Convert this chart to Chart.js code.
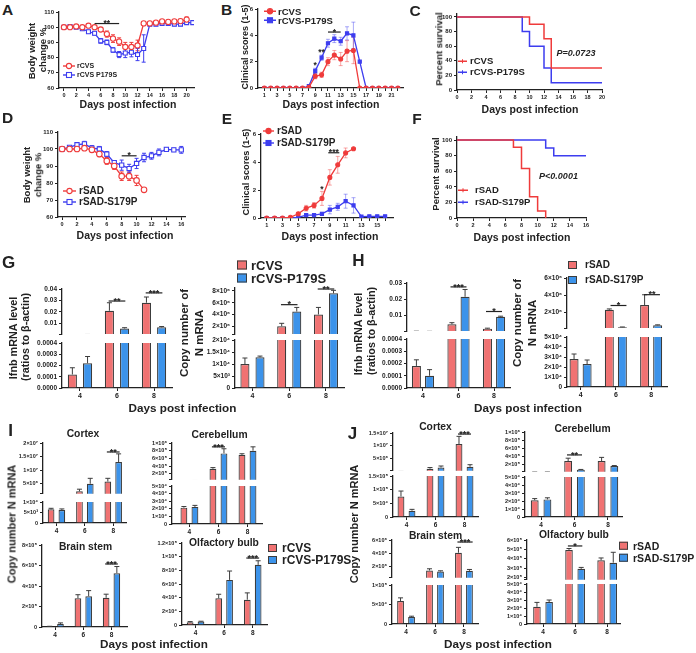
<!DOCTYPE html>
<html>
<head>
<meta charset="utf-8">
<title>Figure</title>
<script src="https://cdn.jsdelivr.net/npm/chart.js@4.4.1/dist/chart.umd.min.js"></script>
<style>
  html, body { margin: 0; padding: 0; background: #fff; }
  #fig { position: relative; width: 696px; height: 653px; overflow: hidden;
         font-family: "Liberation Sans", Arial, sans-serif; font-weight: bold; color: #222; }
  #fig canvas { position: absolute; }
  .lbl { position: absolute; white-space: nowrap; line-height: 1; }
  .key { position: absolute; display: flex; align-items: center; white-space: nowrap;
         line-height: 1; transform: translateY(-50%); }
</style>
</head>
<body>
<div id="fig"></div>
<script>
// ---------- Panel A: body weight, rCVS vs rCVS P179S ----------
const A_DAYS_CVS = [0, 1, 2, 3, 4, 5, 6, 7, 8, 9, 10, 11, 12, 13, 14, 15, 16, 17, 18, 19, 20];
const A_DAYS_P179S = [0, 1, 2, 3, 4, 5, 6, 7, 8, 9, 10, 11, 12, 13, 14, 15, 16, 17, 18, 19, 20, 21];
const A_CVS = [100, 100, 100.5, 100, 101, 100, 98.5, 95.5, 92.5, 90.5, 87, 87, 88, 102.5, 102.5, 103, 103.8, 103.5, 103.8, 104, 105];
const A_CVS_SD = [0.5, 0.5, 0.8, 0.8, 0.8, 1, 1.2, 2, 2.5, 2.5, 3, 3, 3.5, 1, 1, 1, 1, 1, 1, 1.2, 1.8];
const A_P179S = [100, 100.5, 100, 99, 97, 96, 91, 90, 85, 82, 83, 83.5, 82, 86, 102, 102, 102.5, 102.5, 102, 102, 103, 103];
const A_P179S_SD = [0.5, 0.5, 0.5, 1, 1, 1.2, 1.5, 1.5, 1.5, 2, 3, 3, 4, 9, 1, 1, 1, 1, 1, 1, 1, 1];
const A_X_TICKS = [0, 2, 4, 6, 8, 10, 12, 14, 16, 18, 20];
const WEIGHT_TICKS = [60, 70, 80, 90, 100, 110];

// ---------- Panel B: clinical scores, rCVS ----------
const B_DAYS = [1, 2, 3, 4, 5, 6, 7, 8, 9, 10, 11, 12, 13, 14, 15, 16, 17, 18, 19, 20, 21, 22];
const B_CVS = [0, 0, 0, 0, 0, 0, 0, 0.05, 0.9, 1.0, 2.0, 2.5, 2.2, 2.8, 2.85, 0, 0, 0, 0, 0, 0, 0];
const B_CVS_SD = [0, 0, 0, 0, 0, 0, 0, 0.05, 0.2, 0.2, 0.3, 0.35, 0.5, 0.8, 1.0, 0, 0, 0, 0, 0, 0, 0];
const B_P179S = [0, 0, 0, 0, 0, 0, 0, 0.15, 1.3, 2.3, 3.4, 3.75, 3.55, 4.15, 4.0, 2.0, 0, 0, 0, 0, 0, 0];
const B_P179S_SD = [0, 0, 0, 0, 0, 0, 0, 0.1, 0.2, 0.2, 0.3, 0.3, 0.3, 0.5, 1.0, 0, 0, 0, 0, 0, 0, 0];
const SCORE_TICKS = [0, 2, 4, 6];

// ---------- Panel C: survival, rCVS ----------
const C_T_CVS = [0, 10, 12, 13, 20];
const C_S_CVS = [100, 90, 70, 30, 30];
const C_T_P179S = [0, 9, 10, 12, 13, 20];
const C_S_P179S = [100, 80, 60, 30, 10, 10];
const C_X_TICKS = [0, 2, 4, 6, 8, 10, 12, 14, 16, 18, 20];
const SURV_TICKS = [0, 20, 40, 60, 80, 100];

// ---------- Panel D: body weight, rSAD ----------
const D_DAYS_SAD = [0, 1, 2, 3, 4, 5, 6, 7, 8, 9, 10, 11];
const D_DAYS_S179P = [0, 1, 2, 3, 4, 5, 6, 7, 8, 9, 10, 11, 12, 13, 14, 15, 16];
const D_SAD = [100, 100, 100, 100.5, 99.5, 97, 93, 90, 84, 84, 81.5, 76];
const D_SAD_SD = [0.5, 0.5, 0.5, 0.8, 1.5, 1.5, 2, 2, 2.5, 2.5, 3, 0];
const D_S179P = [100, 101, 102.5, 103, 100.5, 100, 97, 92, 90.5, 88.5, 91.5, 95, 96, 98, 99.8, 99.5, 99.5];
const D_S179P_SD = [0.5, 0.5, 1, 1.5, 1.5, 1.5, 1.5, 1, 3, 2.5, 3, 2.5, 2, 2, 1, 1, 2];
const D_X_TICKS = [0, 2, 4, 6, 8, 10, 12, 14, 16];

// ---------- Panel E: clinical scores, rSAD ----------
const E_DAYS_SAD = [1, 2, 3, 4, 5, 6, 7, 8, 9, 10, 11, 12];
const E_DAYS_S179P = [1, 2, 3, 4, 5, 6, 7, 8, 9, 10, 11, 12, 13, 14, 15, 16];
const E_SAD = [0, 0, 0, 0.05, 0.3, 0.7, 0.9, 1.4, 2.9, 3.8, 4.65, 4.95];
const E_SAD_SD = [0, 0, 0, 0.05, 0.1, 0.2, 0.2, 0.5, 0.55, 0.6, 0.35, 0.05];
const E_S179P = [0, 0, 0, 0, 0.05, 0.2, 0.2, 0.3, 0.6, 0.8, 1.2, 0.9, 0.1, 0.12, 0.12, 0.12];
const E_S179P_SD = [0, 0, 0, 0, 0.05, 0.1, 0.1, 0.1, 0.3, 0.25, 0.5, 0.55, 0.05, 0.05, 0.05, 0.05];
const E_X_TICKS = [1, 2, 3, 4, 5, 6, 7, 8, 9, 10, 11, 12, 13, 14, 15, 16];

// ---------- Panel F: survival, rSAD ----------
const F_T_SAD = [0, 7, 8, 9, 10, 11];
const F_S_SAD = [100, 90.9, 63.6, 27.3, 9.1, 0];
const F_T_S179P = [0, 11, 12, 16];
const F_S_S179P = [100, 90, 80, 80];
const F_X_TICKS = [0, 2, 4, 6, 8, 10, 12, 14, 16];

// ---------- Bar panels: days post infection ----------
const BAR_DAYS = [4, 6, 8];

// G: rCVS vs rCVS-P179S
const G_IFNB_CVS = [0.00012, 0.021, 0.028];
const G_IFNB_CVS_SD = [0.00006, 0.007, 0.005];
const G_IFNB_P179S = [0.00022, 0.0055, 0.0065];
const G_IFNB_P179S_SD = [0.00006, 0.0007, 0.0007];
const G_N_CVS = [1.0e4, 2.0e6, 4.0e6];
const G_N_CVS_SD = [0.25e4, 0.5e6, 1.2e6];
const G_N_P179S = [1.28e4, 4.5e6, 7.6e6];
const G_N_P179S_SD = [0.05e4, 0.7e6, 0.5e6];

// H: rSAD vs rSAD-S179P
const H_IFNB_SAD = [0.00018, 0.0045, 0.0018];
const H_IFNB_SAD_SD = [0.00005, 0.001, 0.0003];
const H_IFNB_S179P = [0.0001, 0.0215, 0.0092];
const H_IFNB_S179P_SD = [0.00005, 0.0045, 0.0003];
const H_N_SAD = [2.8e4, 2.3e6, 2.85e6];
const H_N_SAD_SD = [0.5e4, 0.1e6, 1.2e6];
const H_N_S179P = [2.3e4, 0.28e6, 0.5e6];
const H_N_S179P_SD = [0.4e4, 0.02e6, 0.05e6];

// I: rCVS brain regions
const I_CTX_CVS = [6.5e3, 2.2e6, 5.8e6];
const I_CTX_CVS_SD = [0.5e3, 0.8e6, 1.2e6];
const I_CTX_P179S = [6.2e3, 5.0e6, 1.3e7];
const I_CTX_P179S_SD = [0.5e3, 2.0e6, 3.0e6];
const I_CB_CVS = [2.15e4, 3.3e5, 6.9e5];
const I_CB_CVS_SD = [0.15e4, 0.3e5, 0.3e5];
const I_CB_P179S = [2.25e4, 7.3e5, 8.0e5];
const I_CB_P179S_SD = [0.2e4, 1.2e5, 1.0e5];
const I_BS_CVS = [0.05e5, 2.8e5, 2.85e5];
const I_BS_CVS_SD = [0.02e5, 0.35e5, 0.35e5];
const I_BS_P179S = [0.3e5, 3.0e5, 5.25e5];
const I_BS_P179S_SD = [0.1e5, 0.55e5, 0.65e5];
const I_OB_CVS = [0.4e4, 3.9e4, 3.7e4];
const I_OB_CVS_SD = [0.1e4, 0.6e4, 1.0e4];
const I_OB_P179S = [0.5e4, 6.6e4, 8.8e4];
const I_OB_P179S_SD = [0.05e4, 1.3e4, 0.6e4];

// J: rSAD brain regions
const J_CTX_SAD = [7.5e4, 1.15e6, 1.07e7];
const J_CTX_SAD_SD = [2e4, 0.45e6, 3.0e6];
const J_CTX_S179P = [2.3e4, 1.6e6, 1.9e6];
const J_CTX_S179P_SD = [0.5e4, 0.6e6, 0.8e6];
const J_CB_SAD = [2.1e4, 2.9e5, 2.9e5];
const J_CB_SAD_SD = [0.2e4, 0.7e5, 0.9e5];
const J_CB_S179P = [2.2e4, 0.8e5, 1.7e5];
const J_CB_S179P_SD = [0.2e4, 0.05e5, 0.1e5];
const J_BS_SAD = [5.9e4, 1.45e6, 4.1e6];
const J_BS_SAD_SD = [0.8e4, 0.25e6, 0.8e6];
const J_BS_S179P = [1.8e4, 1.3e6, 1.4e6];
const J_BS_S179P_SD = [0.2e4, 0.1e6, 0.2e6];
const J_OB_SAD = [2.15e4, 4.95e5, 3.85e5];
const J_OB_SAD_SD = [0.55e4, 0.15e5, 0.25e5];
const J_OB_S179P = [2.75e4, 2.95e5, 3.6e5];
const J_OB_S179P_SD = [0.25e4, 0.15e5, 1.1e5];

// ---------- look ----------
const RED = '#ef3b3b', BLUE = '#3d3def';
const RED_LIGHT = 'rgba(239,59,59,0.45)', BLUE_LIGHT = 'rgba(61,61,239,0.45)';
const BAR_RED = '#f07272', BAR_BLUE = '#3c93ea', EDGE = '#3c3c3c', INK = '#222';
const FONT = '"Liberation Sans", Arial, Helvetica, sans-serif';

Chart.defaults.font.family = FONT;
Chart.defaults.font.weight = 'bold';
Chart.defaults.color = INK;

const fig = document.getElementById('fig');

const SUP = { '0': '⁰', '1': '¹', '2': '²', '3': '³', '4': '⁴', '5': '⁵', '6': '⁶', '7': '⁷', '8': '⁸', '9': '⁹' };
function sci(v) {
  if (v === 0) return '0';
  const e = Math.floor(Math.log10(v) + 1e-9);
  const m = +(v / Math.pow(10, e)).toFixed(2);
  return m + '×10' + String(e).split('').map(d => SUP[d]).join('');
}
const fix2 = v => v.toFixed(2);
const fix4 = v => v.toFixed(4);
const plain = v => String(v);
const odd = v => (v % 2 ? String(v) : '');

// error bars drawn under the marks, from each dataset's err array
const errorBars = {
  id: 'errorBars',
  beforeDatasetsDraw(chart) {
    const ctx = chart.ctx, a = chart.chartArea, ys = chart.scales.y;
    ctx.save();
    ctx.beginPath();
    ctx.rect(a.left, a.top - 1, a.right - a.left, a.bottom - a.top + 1);
    ctx.clip();
    chart.data.datasets.forEach((ds, di) => {
      if (!ds.err) return;
      const meta = chart.getDatasetMeta(di);
      ctx.strokeStyle = ds.errColor;
      ctx.lineWidth = 1;
      meta.data.forEach((el, i) => {
        const e = ds.err[i];
        if (!e) return;
        const v = ds.data[i].y;
        const top = ys.getPixelForValue(v + e);
        const bot = ds.errUp ? el.y : ys.getPixelForValue(v - e);
        const cw = ds.capW;
        ctx.beginPath();
        ctx.moveTo(el.x, bot); ctx.lineTo(el.x, top);
        ctx.moveTo(el.x - cw, top); ctx.lineTo(el.x + cw, top);
        if (!ds.errUp) { ctx.moveTo(el.x - cw, bot); ctx.lineTo(el.x + cw, bot); }
        ctx.stroke();
      });
    });
    ctx.restore();
  }
};

// significance lines and stars, placed in data units
function sigMarks(marks, size) {
  return {
    id: 'sigMarks',
    afterDatasetsDraw(chart) {
      const ctx = chart.ctx, xs = chart.scales.x, ys = chart.scales.y;
      ctx.save();
      ctx.strokeStyle = INK; ctx.fillStyle = INK; ctx.lineWidth = 1.2;
      ctx.font = 'bold ' + size + 'px ' + FONT;
      ctx.textAlign = 'center'; ctx.textBaseline = 'alphabetic';
      marks.forEach(m => {
        const x1 = xs.getPixelForValue(m.x1), x2 = xs.getPixelForValue(m.x2), y = ys.getPixelForValue(m.y);
        if (m.x1 !== m.x2) {
          ctx.beginPath(); ctx.moveTo(x1, y); ctx.lineTo(x2, y); ctx.stroke();
        }
        ctx.fillText(m.text, (x1 + x2) / 2, y + size * 0.3);
      });
      ctx.restore();
    }
  };
}

function makeCanvas(box, yW, xH, padT, padR, padB) {
  const c = document.createElement('canvas');
  const w = Math.round(box.x1 - box.x0 + yW + padR);
  const h = Math.round(box.y1 - box.y0 + padT + xH + padB);
  c.width = w; c.height = h;
  c.style.left = (box.x0 - yW) + 'px';
  c.style.top = (box.y0 - padT) + 'px';
  c.style.width = w + 'px';
  c.style.height = h + 'px';
  fig.appendChild(c);
  return c;
}

function axisLook() {
  return {
    grid: { display: true, drawOnChartArea: false, drawTicks: true, tickLength: 3, color: INK, lineWidth: 1, offset: false },
    border: { display: true, color: INK, width: 1.3 }
  };
}

function yScale(min, max, ticks, fmt, size, yW) {
  return Object.assign({
    type: 'linear', min, max, bounds: 'data',
    afterBuildTicks: s => { s.ticks = ticks.map(v => ({ value: v })); },
    afterFit: s => { s.width = yW; },
    ticks: { callback: v => fmt(v), font: { size }, padding: 2, autoSkip: false, color: INK }
  }, axisLook());
}

function xScale(min, max, ticks, fmt, size, xH, show) {
  return Object.assign({
    type: 'linear', min, max, bounds: 'data', offset: false, display: show,
    afterBuildTicks: s => { s.ticks = ticks.map(v => ({ value: v })); },
    afterFit: s => { s.height = xH; },
    ticks: { callback: v => fmt(v), font: { size }, padding: 1, maxRotation: 0, autoSkip: false, color: INK }
  }, axisLook());
}

function chartOptions(xs, ys, padT, padR, padB) {
  return {
    responsive: false, maintainAspectRatio: false, animation: false, events: [], devicePixelRatio: 1,
    layout: { padding: { left: 0, top: padT, right: padR, bottom: padB } },
    plugins: { legend: { display: false }, tooltip: { enabled: false } },
    scales: { x: xs, y: ys }
  };
}

// ---------- line / survival charts ----------
function series(xs, ys, errs, color, style, open, radius, errColor) {
  return {
    data: xs.map((x, i) => ({ x, y: ys[i] })),
    borderColor: color, borderWidth: 1.3,
    pointStyle: style, pointRadius: radius, pointBorderWidth: 1.1,
    pointBackgroundColor: open ? '#fff' : color, pointBorderColor: color,
    err: errs, errColor, capW: 2, errUp: false
  };
}

function stepSeries(xs, ys, color) {
  return {
    data: xs.map((x, i) => ({ x, y: ys[i] })),
    borderColor: color, borderWidth: 1.5, stepped: true, pointRadius: 0
  };
}

function lineChart(box, o) {
  const yW = 24, xH = 12, padT = 8, padR = 8;
  const c = makeCanvas(box, yW, xH, padT, padR, 0);
  new Chart(c, {
    type: 'line',
    data: { datasets: o.datasets },
    options: chartOptions(
      xScale(o.xMin, o.xMax, o.xTicks, o.xFmt, 5.5, xH, true),
      yScale(o.yMin, o.yMax, o.yTicks, plain, 6, yW), padT, padR, 0),
    plugins: [errorBars, sigMarks(o.sig || [], 8.5)]
  });
}

// ---------- bar charts (one segment of a possibly broken axis) ----------
function barSeries(vals, sd, fill, catP, barP) {
  return {
    data: BAR_DAYS.map((d, i) => ({ x: d, y: vals[i] })),
    backgroundColor: fill, borderColor: EDGE, borderWidth: 1.2,
    categoryPercentage: catP, barPercentage: barP, clip: 0,
    err: sd, errColor: EDGE, capW: 2.5, errUp: true
  };
}

function barChart(box, o) {
  const show = !!o.showX;
  const xH = show ? 14 : 0, padT = 10, padR = 6, padB = show ? 0 : 5;
  const c = makeCanvas(box, o.yW, xH, padT, padR, padB);
  new Chart(c, {
    type: 'bar',
    data: {
      datasets: [
        barSeries(o.a, o.aSd, BAR_RED, o.catP, o.barP),
        barSeries(o.b, o.bSd, BAR_BLUE, o.catP, o.barP)
      ]
    },
    options: chartOptions(
      xScale(o.xMin, o.xMax, BAR_DAYS, plain, o.xSize, xH, show),
      yScale(o.yMin, o.yMax, o.yTicks, v => (o.hideMin && v === o.yMin ? '' : o.fmt(v)), o.ySize, o.yW),
      padT, padR, padB),
    plugins: [errorBars, sigMarks(o.sig || [], 9)]
  });
}

function brokenBars(top, bottom, common) {
  barChart(top.box, Object.assign({}, common, top, { showX: false, hideMin: true }));
  barChart(bottom.box, Object.assign({}, common, bottom, { showX: true }));
}

// ---------- text ----------
function text(str, x, y, size, o) {
  o = o || {};
  const d = document.createElement('div');
  d.className = 'lbl';
  d.textContent = str;
  d.style.left = x + 'px';
  d.style.top = y + 'px';
  d.style.fontSize = size + 'px';
  if (o.italic) d.style.fontStyle = 'italic';
  d.style.transform = 'translate(-50%,-50%)' + (o.rot ? ' rotate(-90deg)' : '');
  fig.appendChild(d);
}

function lineKey(x, y, w, gap, color, marker, open, label, size) {
  const d = document.createElement('div');
  d.className = 'key';
  d.style.left = x + 'px';
  d.style.top = y + 'px';
  d.style.fontSize = size + 'px';
  const cx = w / 2, cy = 4;
  const fill = open ? '#fff' : color;
  let m = '';
  if (marker === 'circle') m = '<circle cx="' + cx + '" cy="' + cy + '" r="2.6" fill="' + fill + '" stroke="' + color + '" stroke-width="1.1"/>';
  if (marker === 'rect') m = '<rect x="' + (cx - 2.5) + '" y="' + (cy - 2.5) + '" width="5" height="5" fill="' + fill + '" stroke="' + color + '" stroke-width="1.1"/>';
  if (marker === 'tick') m = '<line x1="' + cx + '" y1="' + (cy - 2) + '" x2="' + cx + '" y2="' + (cy + 2) + '" stroke="' + color + '" stroke-width="1"/>';
  d.innerHTML = '<svg width="' + w + '" height="8" style="display:block"><line x1="0" y1="' + cy + '" x2="' + w + '" y2="' + cy +
    '" stroke="' + color + '" stroke-width="1.4"/>' + m + '</svg><span style="margin-left:' + gap + 'px"></span>';
  d.querySelector('span').textContent = label;
  fig.appendChild(d);
}

function barKey(x, y, w, h, gap, fill, label, size) {
  const d = document.createElement('div');
  d.className = 'key';
  d.style.left = x + 'px';
  d.style.top = y + 'px';
  d.style.fontSize = size + 'px';
  d.innerHTML = '<div style="width:' + w + 'px;height:' + h + 'px;box-sizing:border-box;border:1.2px solid ' + EDGE +
    ';background:' + fill + '"></div><span style="margin-left:' + gap + 'px"></span>';
  d.querySelector('span').textContent = label;
  fig.appendChild(d);
}

// ================= A =================
lineChart({ x0: 59, y0: 12, x1: 194, y1: 88 }, {
  xMin: -0.8, xMax: 21.2, xTicks: A_X_TICKS, xFmt: plain,
  yMin: 60, yMax: 110, yTicks: WEIGHT_TICKS,
  datasets: [
    series(A_DAYS_CVS, A_CVS, A_CVS_SD, RED, 'circle', true, 2.6, RED),
    series(A_DAYS_P179S, A_P179S, A_P179S_SD, BLUE, 'rect', true, 2.8, BLUE)
  ],
  sig: [{ x1: 5, x2: 9, y: 102.4, text: '**' }]
});
text('A', 7.5, 9.5, 15.5);
text('Body weight', 32, 51, 9.5, { rot: true });
text('change %', 43, 50, 9.5, { rot: true });
text('Days post infection', 128, 103.5, 10.5);
lineKey(63, 65.5, 12, 2, RED, 'circle', true, 'rCVS', 7);
lineKey(63, 74.5, 12, 2, BLUE, 'rect', true, 'rCVS P179S', 7);

// ================= B =================
lineChart({ x0: 258, y0: 9, x1: 403, y1: 88 }, {
  xMin: 0, xMax: 22.8, xTicks: B_DAYS, xFmt: odd,
  yMin: 0, yMax: 6, yTicks: SCORE_TICKS,
  datasets: [
    series(B_DAYS, B_CVS, B_CVS_SD, RED, 'circle', false, 2, RED_LIGHT),
    series(B_DAYS, B_P179S, B_P179S_SD, BLUE, 'rect', false, 2.2, BLUE_LIGHT)
  ],
  sig: [
    { x1: 9, x2: 9, y: 1.75, text: '*' },
    { x1: 10, x2: 10, y: 2.73, text: '**' },
    { x1: 11, x2: 13, y: 4.25, text: '*' }
  ]
});
text('B', 226.5, 9.5, 15.5);
text('Clinical scores (1-5)', 245, 47, 9, { rot: true });
text('Days post infection', 331, 103.5, 10.5);
lineKey(264, 11.5, 12, 2, RED, 'circle', false, 'rCVS', 9.5);
lineKey(264, 20.5, 12, 2, BLUE, 'rect', false, 'rCVS-P179S', 9.5);

// ================= C =================
lineChart({ x0: 457, y0: 14, x1: 602, y1: 90 }, {
  xMin: 0, xMax: 20, xTicks: C_X_TICKS, xFmt: plain,
  yMin: 0, yMax: 104, yTicks: SURV_TICKS,
  datasets: [stepSeries(C_T_CVS, C_S_CVS, RED), stepSeries(C_T_P179S, C_S_P179S, BLUE)]
});
text('C', 415, 11, 15.5);
text('Percent survival', 438.5, 49, 9.5, { rot: true });
text('Days post infection', 530, 108.5, 10.5);
text('P=0.0723', 576, 53, 9, { italic: true });
lineKey(458, 61, 9, 3, RED, 'tick', false, 'rCVS', 9.5);
lineKey(458, 72, 9, 3, BLUE, 'tick', false, 'rCVS-P179S', 9.5);

// ================= D =================
lineChart({ x0: 58, y0: 132, x1: 185, y1: 217 }, {
  xMin: -0.55, xMax: 16.5, xTicks: D_X_TICKS, xFmt: plain,
  yMin: 60, yMax: 110, yTicks: WEIGHT_TICKS,
  datasets: [
    series(D_DAYS_SAD, D_SAD, D_SAD_SD, RED, 'circle', true, 2.8, RED),
    series(D_DAYS_S179P, D_S179P, D_S179P_SD, BLUE, 'rect', true, 3, BLUE)
  ],
  sig: [{ x1: 8, x2: 10, y: 96, text: '*' }]
});
text('D', 7.5, 118, 15.5);
text('Body weight', 27, 175, 9.5, { rot: true });
text('change %', 38, 175, 9.5, { rot: true });
text('Days post infection', 125, 235, 10.5);
lineKey(63, 191, 13, 3, RED, 'circle', true, 'rSAD', 10);
lineKey(63, 202, 13, 3, BLUE, 'rect', true, 'rSAD-S179P', 10);

// ================= E =================
lineChart({ x0: 261, y0: 134, x1: 393, y1: 218 }, {
  xMin: 0.28, xMax: 17, xTicks: E_X_TICKS, xFmt: odd,
  yMin: 0, yMax: 6, yTicks: SCORE_TICKS,
  datasets: [
    series(E_DAYS_SAD, E_SAD, E_SAD_SD, RED, 'circle', false, 2, RED_LIGHT),
    series(E_DAYS_S179P, E_S179P, E_S179P_SD, BLUE, 'rect', false, 2.2, BLUE_LIGHT)
  ],
  sig: [
    { x1: 8, x2: 8, y: 2.07, text: '*' },
    { x1: 8.8, x2: 10.2, y: 4.66, text: '***' }
  ]
});
text('E', 227, 119, 15.5);
text('Clinical scores (1-5)', 246.5, 172, 9.2, { rot: true });
text('Days post infection', 330, 236, 10.5);
lineKey(263, 130.5, 11, 3, RED, 'circle', false, 'rSAD', 10);
lineKey(263, 142.5, 11, 3, BLUE, 'rect', false, 'rSAD-S179P', 10);

// ================= F =================
lineChart({ x0: 457, y0: 137, x1: 586, y1: 218 }, {
  xMin: 0, xMax: 16, xTicks: F_X_TICKS, xFmt: plain,
  yMin: 0, yMax: 104, yTicks: SURV_TICKS,
  datasets: [stepSeries(F_T_SAD, F_S_SAD, RED), stepSeries(F_T_S179P, F_S_S179P, BLUE)]
});
text('F', 417, 119, 15.5);
text('Percent survival', 436, 174, 9.5, { rot: true });
text('Days post infection', 522, 237, 10.5);
text('P<0.0001', 558.5, 176, 9, { italic: true });
lineKey(458, 190, 10, 7, RED, 'tick', false, 'rSAD', 9.5);
lineKey(458, 202, 10, 7, BLUE, 'tick', false, 'rSAD-S179P', 9.5);

// ================= G =================
const G_BARS = { catP: 0.82, barP: 0.6, yW: 30, ySize: 6.5, xSize: 7 };
brokenBars(
  { box: { x0: 62, y0: 289, x1: 172, y1: 335 }, yMin: 0.0006, yMax: 0.04, yTicks: [0.0006, 0.01, 0.02, 0.03, 0.04], fmt: fix2,
    sig: [{ x1: 5.55, x2: 6.45, y: 0.0295, text: '**' }, { x1: 7.55, x2: 8.45, y: 0.0366, text: '***' }] },
  { box: { x0: 62, y0: 343, x1: 172, y1: 388 }, yMin: 0, yMax: 0.0004, yTicks: [0, 0.0001, 0.0002, 0.0003, 0.0004], fmt: fix4 },
  Object.assign({ xMin: 3.03, xMax: 8.97, a: G_IFNB_CVS, aSd: G_IFNB_CVS_SD, b: G_IFNB_P179S, bSd: G_IFNB_P179S_SD }, G_BARS)
);
brokenBars(
  { box: { x0: 235, y0: 288, x1: 344, y1: 335 }, yMin: 0.67e6, yMax: 8.5e6, yTicks: [0.67e6, 2e6, 4e6, 6e6, 8e6], fmt: sci,
    sig: [{ x1: 5.55, x2: 6.45, y: 5.67e6, text: '*' }, { x1: 7.55, x2: 8.45, y: 8.33e6, text: '**' }] },
  { box: { x0: 235, y0: 340, x1: 344, y1: 388 }, yMin: 0, yMax: 2e4, yTicks: [0, 5e3, 1e4, 1.5e4, 2e4], fmt: sci },
  Object.assign({ xMin: 3.05, xMax: 8.98, a: G_N_CVS, aSd: G_N_CVS_SD, b: G_N_P179S, bSd: G_N_P179S_SD }, G_BARS)
);
text('G', 8.5, 262, 17);
text('Ifnb mRNA level', 12.5, 338, 10.8, { rot: true });
text('(ratios to β-actin)', 25, 337, 10.8, { rot: true });
text('Copy number of', 185, 333, 11.5, { rot: true });
text('N mRNA', 199.5, 333, 11.5, { rot: true });
text('Days post infection', 182.5, 407.5, 11.7);
barKey(237, 265, 10, 9, 4, BAR_RED, 'rCVS', 13);
barKey(237, 277.5, 10, 9, 4, BAR_BLUE, 'rCVS-P179S', 13);

// ================= H =================
const H_BARS = { catP: 0.74, barP: 0.69, yW: 30, ySize: 6.5, xSize: 7 };
brokenBars(
  { box: { x0: 407, y0: 283, x1: 510, y1: 332 }, yMin: 0.0003, yMax: 0.03, yTicks: [0.0003, 0.01, 0.02, 0.03], fmt: fix2,
    sig: [{ x1: 5.55, x2: 6.45, y: 0.0276, text: '***' }, { x1: 7.55, x2: 8.45, y: 0.0124, text: '*' }] },
  { box: { x0: 407, y0: 339, x1: 510, y1: 388 }, yMin: 0, yMax: 0.0004, yTicks: [0, 0.0001, 0.0002, 0.0003, 0.0004], fmt: fix4 },
  Object.assign({ xMin: 3.1, xMax: 8.9, a: H_IFNB_SAD, aSd: H_IFNB_SAD_SD, b: H_IFNB_S179P, bSd: H_IFNB_S179P_SD }, H_BARS)
);
brokenBars(
  { box: { x0: 567, y0: 278, x1: 667, y1: 329 }, yMin: 0.17e6, yMax: 6e6, yTicks: [0.17e6, 2e6, 4e6, 6e6], fmt: sci,
    sig: [{ x1: 5.7, x2: 6.6, y: 2.8e6, text: '*' }, { x1: 7.6, x2: 8.5, y: 4.06e6, text: '**' }] },
  { box: { x0: 567, y0: 337, x1: 667, y1: 387 }, yMin: 0, yMax: 5e4, yTicks: [0, 1e4, 2e4, 3e4, 4e4, 5e4], fmt: sci },
  Object.assign({ xMin: 3.23, xMax: 8.9, a: H_N_SAD, aSd: H_N_SAD_SD, b: H_N_S179P, bSd: H_N_S179P_SD }, H_BARS)
);
text('H', 358.5, 260, 17);
text('Ifnb mRNA level', 357.5, 334, 10.8, { rot: true });
text('(ratios to β-actin)', 371, 331, 10.8, { rot: true });
text('Copy number of', 518, 323, 11.5, { rot: true });
text('N mRNA', 532.5, 323, 11.5, { rot: true });
text('Days post infection', 528, 407.5, 11.7);
barKey(568, 264.5, 9, 8, 8, BAR_RED, 'rSAD', 10);
barKey(568, 280, 9, 8, 8, BAR_BLUE, 'rSAD-S179P', 10);

// ================= I =================
const IJ_BARS = { catP: 0.76, barP: 0.62, yW: 28, ySize: 5.5, xSize: 6.5 };
brokenBars(
  { box: { x0: 43, y0: 443, x1: 126, y1: 494 }, yMin: 1.34e6, yMax: 2e7, yTicks: [1.34e6, 5e6, 1e7, 1.5e7, 2e7], fmt: sci,
    sig: [{ x1: 7.55, x2: 8.45, y: 1.67e7, text: '**' }] },
  { box: { x0: 43, y0: 502, x1: 126, y1: 523 }, yMin: 0, yMax: 1e4, yTicks: [0, 5e3, 1e4], fmt: sci },
  Object.assign({ xMin: 3.05, xMax: 8.9, a: I_CTX_CVS, aSd: I_CTX_CVS_SD, b: I_CTX_P179S, bSd: I_CTX_P179S_SD }, IJ_BARS)
);
brokenBars(
  { box: { x0: 172, y0: 443, x1: 262, y1: 480 }, yMin: 0.45e5, yMax: 1e6, yTicks: [0.45e5, 2e5, 4e5, 6e5, 8e5, 1e6], fmt: sci,
    sig: [{ x1: 5.55, x2: 6.45, y: 9e5, text: '***' }] },
  { box: { x0: 172, y0: 486, x1: 262, y1: 524 }, yMin: 0, yMax: 5e4, yTicks: [0, 1e4, 2e4, 3e4, 4e4, 5e4], fmt: sci },
  Object.assign({ xMin: 2.8, xMax: 9.0, a: I_CB_CVS, aSd: I_CB_CVS_SD, b: I_CB_P179S, bSd: I_CB_P179S_SD }, IJ_BARS)
);
barChart({ x0: 42, y0: 545, x1: 127, y1: 627 }, Object.assign({
  showX: true, yMin: 0, yMax: 8e5, yTicks: [0, 2e5, 4e5, 6e5, 8e5], fmt: sci, xMin: 3.07, xMax: 9.1,
  a: I_BS_CVS, aSd: I_BS_CVS_SD, b: I_BS_P179S, bSd: I_BS_P179S_SD,
  sig: [{ x1: 7.55, x2: 8.45, y: 6.15e5, text: '***' }]
}, IJ_BARS));
barChart({ x0: 182, y0: 543, x1: 267, y1: 625 }, Object.assign({
  showX: true, yMin: 0, yMax: 1.2e5, yTicks: [0, 2e4, 4e4, 6e4, 8e4, 1e5, 1.2e5], fmt: sci, xMin: 3.05, xMax: 9.0,
  a: I_OB_CVS, aSd: I_OB_CVS_SD, b: I_OB_P179S, bSd: I_OB_P179S_SD,
  sig: [{ x1: 7.55, x2: 8.45, y: 9.8e4, text: '***' }]
}, IJ_BARS));
text('I', 10.5, 430, 17);
text('Cortex', 83, 434, 10.3);
text('Cerebellum', 219.5, 435, 10.3);
text('Brain stem', 85.5, 546.5, 10.3);
text('Olfactory bulb', 224, 542.5, 10.3);
text('Copy number N mRNA', 12, 524, 11, { rot: true });
text('Days post infection', 154, 643.5, 11.7);
barKey(268, 548, 9, 8, 5, BAR_RED, 'rCVS', 12);
barKey(268, 559.5, 9, 8, 5, BAR_BLUE, 'rCVS-P179S', 12);

// ================= J =================
brokenBars(
  { box: { x0: 393, y0: 433, x1: 478, y1: 471 }, yMin: 0.38e6, yMax: 1.5e7, yTicks: [0.38e6, 5e6, 1e7, 1.5e7], fmt: sci,
    sig: [{ x1: 7.55, x2: 8.45, y: 1.46e7, text: '***' }] },
  { box: { x0: 393, y0: 476, x1: 478, y1: 517 }, yMin: 0, yMax: 1.5e5, yTicks: [0, 5e4, 1e5, 1.5e5], fmt: sci },
  Object.assign({ xMin: 3.07, xMax: 8.93, a: J_CTX_SAD, aSd: J_CTX_SAD_SD, b: J_CTX_S179P, bSd: J_CTX_S179P_SD }, IJ_BARS)
);
brokenBars(
  { box: { x0: 525, y0: 432, x1: 622, y1: 472 }, yMin: 0.3e5, yMax: 1e6, yTicks: [0.3e5, 2e5, 4e5, 6e5, 8e5, 1e6], fmt: sci,
    sig: [{ x1: 5.55, x2: 6.45, y: 4.4e5, text: '**' }] },
  { box: { x0: 525, y0: 477, x1: 622, y1: 517 }, yMin: 0, yMax: 5e4, yTicks: [0, 1e4, 2e4, 3e4, 4e4, 5e4], fmt: sci },
  Object.assign({ xMin: 3.04, xMax: 8.84, a: J_CB_SAD, aSd: J_CB_SAD_SD, b: J_CB_S179P, bSd: J_CB_S179P_SD }, IJ_BARS)
);
brokenBars(
  { box: { x0: 392, y0: 540, x1: 478, y1: 578 }, yMin: 0.37e6, yMax: 6e6, yTicks: [0.37e6, 2e6, 4e6, 6e6], fmt: sci,
    sig: [{ x1: 7.55, x2: 8.6, y: 5.7e6, text: '***' }] },
  { box: { x0: 392, y0: 585, x1: 478, y1: 624 }, yMin: 0, yMax: 1e5, yTicks: [0, 5e4, 1e5], fmt: sci },
  Object.assign({ xMin: 3.03, xMax: 8.97, a: J_BS_SAD, aSd: J_BS_SAD_SD, b: J_BS_S179P, bSd: J_BS_S179P_SD }, IJ_BARS)
);
brokenBars(
  { box: { x0: 527, y0: 540, x1: 620, y1: 580 }, yMin: 1.8e5, yMax: 6e5, yTicks: [1.8e5, 2e5, 3e5, 4e5, 5e5, 6e5], fmt: sci,
    sig: [{ x1: 5.55, x2: 6.45, y: 5.37e5, text: '*' }] },
  { box: { x0: 527, y0: 584, x1: 620, y1: 624 }, yMin: 0, yMax: 5e4, yTicks: [0, 1e4, 2e4, 3e4, 4e4, 5e4], fmt: sci },
  Object.assign({ xMin: 3.0, xMax: 8.8, a: J_OB_SAD, aSd: J_OB_SAD_SD, b: J_OB_S179P, bSd: J_OB_S179P_SD }, IJ_BARS)
);
text('J', 352.5, 433, 17);
text('Cortex', 435.5, 426.5, 10.3);
text('Cerebellum', 582.5, 429, 10.3);
text('Brain stem', 435.5, 536, 10.3);
text('Olfactory bulb', 574, 534.5, 10.3);
text('Copy number N mRNA', 354, 524, 11, { rot: true });
text('Days post infection', 498, 643.5, 11.7);
barKey(619, 546, 9, 8, 5, BAR_RED, 'rSAD', 10.5);
barKey(619, 557.5, 9, 8, 5, BAR_BLUE, 'rSAD-S179P', 10.5);
</script>
</body>
</html>
